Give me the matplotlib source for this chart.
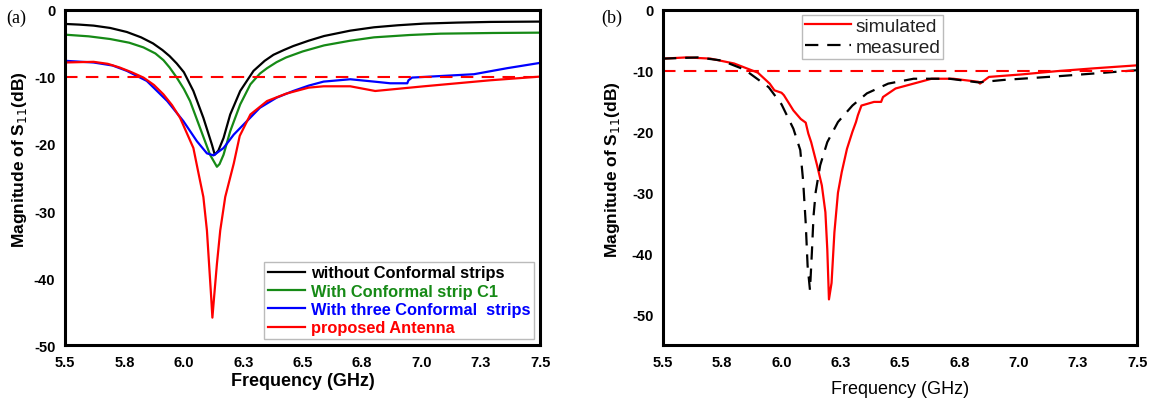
import matplotlib
matplotlib.use("Agg")
import matplotlib.pyplot as plt

plt.rcParams['font.family'] = ['Liberation Sans', 'DejaVu Sans']
plt.rcParams['axes.unicode_minus'] = False

# panel (a) data
f_black = [5.5, 5.56, 5.62, 5.69, 5.76, 5.82, 5.87, 5.91, 5.94, 5.97, 6.0, 6.04, 6.082,
           6.118, 6.13, 6.145, 6.167, 6.195, 6.237, 6.293, 6.34, 6.377, 6.42, 6.46, 6.525,
           6.59, 6.7, 6.8, 6.9, 7.01, 7.15, 7.29, 7.5]
s_black = [-2.1, -2.2, -2.35, -2.7, -3.3, -4.1, -5.0, -6.0, -6.9, -8.0, -9.3, -12.1, -16.1,
           -20.1, -21.6, -21.0, -19.1, -15.6, -12.1, -9.1, -7.6, -6.7, -6.0, -5.4, -4.6,
           -3.9, -3.1, -2.6, -2.3, -2.05, -1.9, -1.8, -1.75]

f_green = [5.5, 5.6, 5.69, 5.77, 5.83, 5.88, 5.914, 5.94, 5.97, 6.0, 6.026, 6.068, 6.11,
           6.139, 6.15, 6.167, 6.195, 6.237, 6.28, 6.32, 6.35, 6.39, 6.43, 6.5, 6.59, 6.7,
           6.8, 6.95, 7.08, 7.3, 7.5]
s_green = [-3.7, -3.95, -4.35, -4.9, -5.6, -6.5, -7.5, -8.6, -10.1, -11.8, -13.6, -17.6,
           -21.6, -23.4, -23.0, -21.6, -18.1, -14.1, -11.1, -9.5, -8.7, -7.8, -7.1, -6.2,
           -5.3, -4.6, -4.1, -3.75, -3.55, -3.45, -3.4]

f_blue = [5.5, 5.62, 5.7, 5.76, 5.844, 5.93, 5.998, 6.055, 6.097, 6.125, 6.167, 6.21,
          6.265, 6.32, 6.39, 6.46, 6.525, 6.588, 6.7, 6.8, 6.868, 6.94, 6.945, 6.96, 7.22,
          7.36, 7.5]
s_blue = [-7.6, -7.85, -8.3, -9.1, -10.6, -13.6, -16.6, -19.6, -21.4, -21.7, -20.6, -18.6,
          -16.6, -14.6, -13.1, -12.1, -11.3, -10.7, -10.35, -10.7, -10.95, -10.95, -10.5,
          -10.1, -9.6, -8.7, -7.9]

f_red = [5.5, 5.62, 5.68, 5.73, 5.78, 5.83, 5.874, 5.914, 5.95, 5.984, 6.04, 6.06, 6.082,
         6.097, 6.106, 6.115, 6.12, 6.127, 6.139, 6.153, 6.174, 6.21, 6.235, 6.28, 6.35,
         6.43, 6.525, 6.588, 6.7, 6.805, 7.01, 7.29, 7.5]
s_red = [-7.85, -7.75, -8.05, -8.6, -9.3, -10.1, -11.2, -12.6, -14.2, -16.1, -20.6, -24.1,
         -27.9, -32.9, -37.9, -42.9, -45.9, -42.9, -37.9, -32.9, -27.9, -22.9, -18.8, -15.6,
         -13.6, -12.5, -11.6, -11.4, -11.4, -12.1, -11.4, -10.5, -9.95]

# panel (b) data
f_sim = [5.5, 5.6, 5.7, 5.8, 5.9, 5.95, 5.97, 6.0, 6.01, 6.05, 6.081, 6.102, 6.113, 6.125,
         6.15, 6.17, 6.185, 6.193, 6.2, 6.211, 6.223, 6.238, 6.254, 6.276, 6.299, 6.314,
         6.322, 6.337, 6.39, 6.42, 6.428, 6.481, 6.557, 6.633, 6.724, 6.83, 6.837, 6.875,
         7.01, 7.163, 7.315, 7.5]
s_sim = [-8.0, -7.8, -8.0, -8.8, -10.3, -12.1, -13.2, -13.6, -14.0, -16.5, -17.9, -18.5,
         -20.3, -21.7, -25.5, -28.8, -33.2, -39.3, -47.5, -44.8, -36.5, -30.0, -26.6, -22.8,
         -20.0, -18.4, -17.3, -15.7, -15.1, -15.1, -14.3, -12.9, -12.1, -11.3, -11.3, -11.8,
         -12.1, -11.0, -10.6, -10.05, -9.6, -9.1]

f_meas = [5.5, 5.647, 5.746, 5.844, 5.946, 6.0, 6.05, 6.079, 6.091, 6.102, 6.11, 6.12,
          6.128, 6.135, 6.144, 6.163, 6.193, 6.238, 6.299, 6.36, 6.45, 6.557, 6.708, 6.83,
          6.936, 7.163, 7.5]
s_meas = [-8.0, -7.8, -8.3, -9.8, -12.7, -15.5, -19.5, -23.0, -28.0, -35.0, -42.0, -46.0,
          -39.8, -33.8, -29.9, -25.5, -21.7, -18.4, -15.7, -13.7, -12.1, -11.3, -11.3, -11.9,
          -11.5, -10.9, -9.9]

xticks = [5.5, 5.75, 6.0, 6.25, 6.5, 6.75, 7.0, 7.25, 7.5]
xtick_labels = ['5.5', '5.8', '6.0', '6.3', '6.5', '6.8', '7.0', '7.3', '7.5']

fig = plt.figure(figsize=(11.51, 4.02), dpi=100)
ax1 = fig.add_axes([0.0565, 0.139, 0.413, 0.834])
ax2 = fig.add_axes([0.576, 0.139, 0.412, 0.834])

lw = 1.6
ax1.plot(f_black, s_black, color='black', lw=lw, label='without Conformal strips')
ax1.plot(f_green, s_green, color='#168a16', lw=lw, label='With Conformal strip C1')
ax1.plot(f_blue, s_blue, color='blue', lw=lw, label='With three Conformal  strips')
ax1.plot(f_red, s_red, color='red', lw=lw, label='proposed Antenna')
ax1.axhline(-10, color='red', lw=1.5, ls=(0, (6, 4)))
ax1.set_ylim(-50, 0)
ax1.set_yticks([0, -10, -20, -30, -40, -50])

ax2.plot(f_sim, s_sim, color='red', lw=lw, label='simulated')
ax2.plot(f_meas, s_meas, color='black', lw=lw, ls=(0, (6, 4)), label='measured')
ax2.axhline(-10, color='red', lw=1.5, ls=(0, (6, 4)))
ax2.set_ylim(-55, 0)
ax2.set_yticks([0, -10, -20, -30, -40, -50])

for ax in (ax1, ax2):
    ax.set_xlim(5.5, 7.5)
    ax.set_xticks(xticks)
    ax.set_xticklabels(xtick_labels)
    ax.tick_params(length=0, labelsize=10.5, pad=7)
    for t in ax.get_xticklabels() + ax.get_yticklabels():
        t.set_fontweight('bold')
    for sp in ax.spines.values():
        sp.set_linewidth(2.2)
    ax.set_ylabel('Magnitude of S$_{11}$(dB)', fontsize=12.5, fontweight='bold')
    ax.yaxis.label.set_math_fontfamily('dejavusans')

ax1.yaxis.set_label_coords(-0.076, 0.557)
ax2.yaxis.set_label_coords(-0.087, 0.525)

ax1.set_xlabel('Frequency (GHz)', fontsize=13, fontweight='bold', labelpad=2)
ax2.set_xlabel('Frequency (GHz)', fontsize=13, labelpad=8)

leg1 = ax1.legend(loc='lower right', fontsize=11.8, handlelength=2.3, borderpad=0.2,
                  labelspacing=0.2, handletextpad=0.35, fancybox=False, framealpha=1,
                  borderaxespad=0.4)
leg1.get_frame().set_edgecolor('#bbbbbb')
for txt, ln in zip(leg1.get_texts(), leg1.get_lines()):
    txt.set_color(ln.get_color())
    txt.set_fontweight('bold')

leg2 = ax2.legend(loc='upper center', bbox_to_anchor=(0.442, 1.0), fontsize=13.8,
                  handlelength=2.4, borderpad=0.15, labelspacing=0.2, handletextpad=0.25,
                  fancybox=False, framealpha=1, borderaxespad=0.25)
leg2.get_frame().set_edgecolor('#bbbbbb')
for txt in leg2.get_texts():
    txt.set_color('#222222')

fig.text(0.005, 0.955, '(a)', fontsize=13, family='Liberation Serif', va='center')
fig.text(0.522, 0.955, '(b)', fontsize=13, family='Liberation Serif', va='center')

fig.savefig('out.png', dpi=100)
